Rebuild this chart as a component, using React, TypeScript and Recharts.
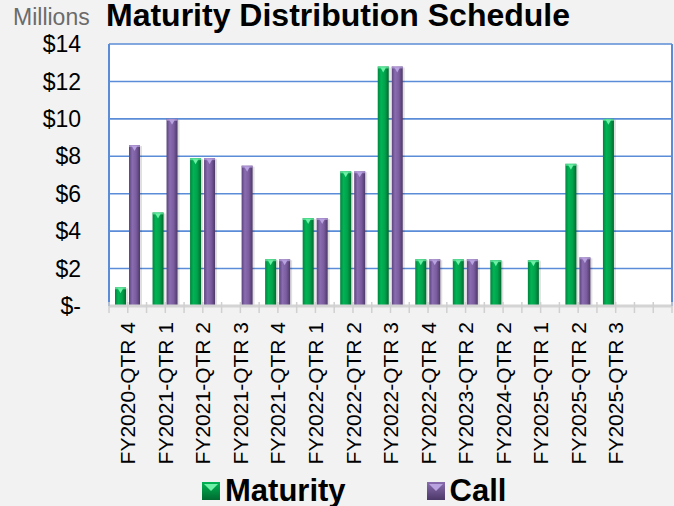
import {BarChart, Bar, XAxis, YAxis, CartesianGrid, Legend} from "recharts";

const categories = ["FY2020-QTR 4", "FY2021-QTR 1", "FY2021-QTR 2", "FY2021-QTR 3", "FY2021-QTR 4", "FY2022-QTR 1", "FY2022-QTR 2", "FY2022-QTR 3", "FY2022-QTR 4", "FY2023-QTR 2", "FY2024-QTR 2", "FY2025-QTR 1", "FY2025-QTR 2", "FY2025-QTR 3", ""];
const maturity = [1.0, 5.0, 7.9, null, 2.5, 4.7, 7.2, 12.8, 2.5, 2.5, 2.45, 2.45, 7.6, 10.0, null];
const call = [8.6, 10.0, 7.9, 7.5, 2.5, 4.7, 7.2, 12.8, 2.5, 2.5, null, null, 2.6, null, null];
const yTicks = [0, 2, 4, 6, 8, 10, 12, 14];
const seriesOrder = ["maturity", "call"];

const data = categories.map((name, i) => ({name, maturity: maturity[i], call: call[i]}));

const FONT = "'Liberation Sans', Arial, sans-serif";
const BLUE = "#5b8cd7";
const GREEN = {id: "gGreen", light: "#6ef0a6", stops: ["#00843e", "#00b454", "#00a24b", "#006a30"]};
const PURPLE = {id: "gPurple", light: "#b9a2e0", stops: ["#5a437c", "#8a6cb0", "#7a5c9f", "#4c3868"]};

const bar3d = (c: typeof GREEN) => (props: any) => {
  const {x, y, width, height} = props;
  if (!height || height <= 0) return null;
  const mid = x + width / 2;
  return (
    <g>
      <rect x={x + 2} y={y + 1} width={width} height={height - 1} fill="#000" opacity={0.12} />
      <rect x={x} y={y} width={width} height={height} fill={`url(#${c.id})`} />
      <rect x={x} y={y} width={width} height={2} fill={c.light} opacity={0.7} />
      <polygon points={`${x + width * 0.25},${y + 1} ${x + width * 0.75},${y + 1} ${mid},${y + 6}`} fill={c.light} />
    </g>
  );
};

function CategoryTick(props: any) {
  const {x, y, payload, index, visibleTicksCount} = props;
  const w = Number(props.width) || 563;
  const half = w / (visibleTicksCount || 15) / 2;
  const marks = [x - half, x];
  if (index === (visibleTicksCount || 15) - 1) marks.push(x + half);
  return (
    <g>
      {marks.map((mx, i) => (
        <line key={i} x1={mx} x2={mx} y1={y - 4} y2={y + 7} stroke="#d0d0d0" strokeWidth={1.5} />
      ))}
      <text transform={`translate(${x},${y}) rotate(-90)`} x={-16} dy="0.36em" textAnchor="end" fontSize={21} fontFamily={FONT} fill="#000">
        {payload.value}
      </text>
    </g>
  );
}

function LegendSwatch({c}: {c: typeof GREEN}) {
  return (
    <svg width={18} height={18} style={{display: "block"}}>
      <defs>
        <linearGradient id={`${c.id}L`} x1="0" y1="0" x2="0" y2="1">
          <stop offset="0%" stopColor={c.stops[1]} />
          <stop offset="100%" stopColor={c.stops[3]} />
        </linearGradient>
      </defs>
      <rect x={0} y={0} width={18} height={18} fill={`url(#${c.id}L)`} />
      <polygon points="2,2 16,2 9,9" fill={c.light} />
    </svg>
  );
}

function LegendContent(props: any) {
  const items = [...(props.payload || [])].sort((a: any, b: any) => seriesOrder.indexOf(a.dataKey) - seriesOrder.indexOf(b.dataKey));
  return (
    <div style={{height: 40, display: "flex", paddingLeft: 202, gap: 81, alignItems: "flex-start", paddingTop: 9, boxSizing: "border-box"}}>
      {items.map((it: any) => (
        <div key={it.value} style={{display: "flex", alignItems: "center", height: 31}}>
          <LegendSwatch c={it.dataKey === "call" ? PURPLE : GREEN} />
          <span style={{marginLeft: 5, fontFamily: FONT, fontWeight: "bold", fontSize: 31, lineHeight: "31px", color: "#000"}}>{it.value}</span>
        </div>
      ))}
    </div>
  );
}

export default function App() {
  return (
    <div style={{position: "absolute", left: 0, top: 0, width: 674, height: 506, background: "#f2f2f2"}}>
      <BarChart width={674} height={506} data={data} margin={{top: 44, right: 0, left: 0, bottom: 0}} barCategoryGap={6} barGap={3}>
        <defs>
          {[GREEN, PURPLE].map((c) => (
            <linearGradient key={c.id} id={c.id} x1="0" y1="0" x2="1" y2="0">
              <stop offset="0%" stopColor={c.stops[0]} />
              <stop offset="30%" stopColor={c.stops[1]} />
              <stop offset="65%" stopColor={c.stops[2]} />
              <stop offset="100%" stopColor={c.stops[3]} />
            </linearGradient>
          ))}
        </defs>
        <CartesianGrid vertical={false} stroke={BLUE} strokeWidth={1.6} fill="#fff" />
        <XAxis dataKey="name" height={160} interval={0} tickLine={false} tickSize={0} tickMargin={0} tick={<CategoryTick />} axisLine={{stroke: "#d4d4d4", strokeWidth: 3}} />
        <YAxis width={109} domain={[0, 14]} ticks={yTicks} tickLine={false} tickSize={0} tickMargin={28} axisLine={{stroke: BLUE, strokeWidth: 2}} tick={{fontSize: 23, fill: "#000", fontFamily: FONT}} tickFormatter={(v: number) => (v === 0 ? "$-" : `$${v}`)} />
        <YAxis yAxisId="right" orientation="right" width={2} tick={false} tickLine={false} axisLine={{stroke: BLUE, strokeWidth: 2}} />
        <Legend verticalAlign="bottom" height={40} content={<LegendContent />} />
        <Bar dataKey="maturity" name="Maturity" fill={GREEN.stops[1]} shape={bar3d(GREEN)} isAnimationActive={false} />
        <Bar dataKey="call" name="Call" fill={PURPLE.stops[1]} shape={bar3d(PURPLE)} isAnimationActive={false} />
      </BarChart>
      <svg width={674} height={44} style={{position: "absolute", left: 0, top: 0}}>
        <text x={13} y={25} fontSize={23} fontFamily={FONT} fill="#6b6b6b">Millions</text>
        <text x={106} y={26} fontSize={32} fontWeight="bold" fontFamily={FONT} fill="#000">Maturity Distribution Schedule</text>
      </svg>
    </div>
  );
}
